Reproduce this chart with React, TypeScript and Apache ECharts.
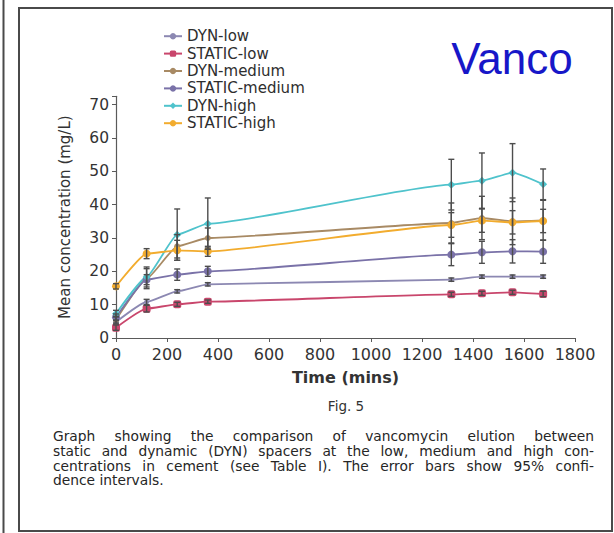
import React, { useEffect, useRef } from "react";
import * as echarts from "echarts";

// ---- data ----
const times = [0, 120, 240, 360, 1315, 1435, 1555, 1675];
const seriesNames = ["DYN-low", "STATIC-low", "DYN-medium", "STATIC-medium", "DYN-high", "STATIC-high"];

const dynLow = [4.8, 10.8, 14.0, 16.1, 17.5, 18.4, 18.4, 18.4];
const dynLowErr = [0.6, 0.8, 0.5, 0.5, 0.5, 0.5, 0.5, 0.5];
const staticLow = [3.1, 8.8, 10.1, 10.9, 13.1, 13.4, 13.7, 13.2];
const staticLowErr = [0.8, 1.0, 0.6, 0.5, 0.6, 0.6, 0.6, 0.8];
const dynMedium = [5.5, 17.8, 27.5, 30.0, 34.5, 36.0, 35.0, 35.3];
const dynMediumErr = [1.0, 3.0, 3.5, 3.0, 6.0, 6.5, 7.0, 6.0];
const staticMedium = [6.2, 17.5, 19.0, 20.0, 25.0, 25.7, 26.0, 25.9];
const staticMediumErr = [1.0, 1.5, 1.7, 1.5, 3.3, 3.3, 3.5, 3.5];
const dynHigh = [7.3, 18.3, 31.0, 34.3, 46.0, 47.2, 49.6, 46.1];
const dynHighErr = [1.0, 3.0, 7.7, 7.7, 7.6, 8.3, 8.7, 4.6];
const staticHigh = [15.5, 25.3, 26.3, 26.0, 33.9, 35.2, 34.7, 35.1];
const staticHighErr = [0.8, 1.5, 3.0, 1.5, 3.7, 3.5, 3.5, 3.5];

const xTicks = { min: 0, max: 1800, interval: 200 };
const yTicks = { min: 0, max: 72.5, interval: 10 };

const captionLines = [
  "Graph showing the comparison of vancomycin elution between",
  "static and dynamic (DYN) spacers at the low, medium and high con-",
  "centrations in cement (see Table I). The error bars show 95% confi-",
  "dence intervals.",
];

const values = [dynLow, staticLow, dynMedium, staticMedium, dynHigh, staticHigh];
const errors = [dynLowErr, staticLowErr, dynMediumErr, staticMediumErr, dynHighErr, staticHighErr];
const colors = ["#8c88b2", "#c9466c", "#a88a64", "#7a72a8", "#4fc3cc", "#f2ac2e"];
const symbols = ["circle", "roundRect", "circle", "circle", "diamond", "circle"];
const symbolSizes = [5, 8, 6, 8, 8, 8];

const FONT = "DejaVu Sans";

function buildCaption(): any[] {
  const els: any[] = [];
  const canvas = document.createElement("canvas");
  const ctx = canvas.getContext("2d");
  const size = 13.8;
  const left = 53;
  const width = 541;
  const ys = [436, 451, 465.5, 480];
  const base = { fontSize: size, fontFamily: FONT, fill: "#262626", align: "left", verticalAlign: "middle" };
  captionLines.forEach((line, li) => {
    const justify = li < captionLines.length - 1;
    if (!justify || !ctx) {
      els.push({ type: "text", x: left, y: ys[li], style: { ...base, text: line } });
      return;
    }
    ctx.font = `${size}px "${FONT}"`;
    const words = line.split(" ");
    const widths = words.map((w) => ctx.measureText(w).width);
    const total = widths.reduce((a, b) => a + b, 0);
    const gap = Math.max((width - total) / (words.length - 1), 2);
    let x = left;
    words.forEach((w, i) => {
      els.push({ type: "text", x, y: ys[li], style: { ...base, text: w } });
      x += widths[i] + gap;
    });
  });
  return els;
}

export default function App() {
  const ref = useRef<HTMLDivElement>(null);
  useEffect(() => {
    document.body.style.margin = "0";
    if (!ref.current) return;
    const chart = echarts.init(ref.current, null, { renderer: "svg" });

    const lineSeries = seriesNames.map((name, i) => ({
      name,
      type: "line",
      data: times.map((t, j) => [t, values[i][j]]),
      smooth: 0.15,
      smoothMonotone: "x",
      symbol: symbols[i],
      symbolSize: symbolSizes[i],
      showAllSymbol: true,
      itemStyle: { color: colors[i] },
      lineStyle: { color: colors[i], width: 1.8 },
      z: 2,
    }));

    const errSeries = seriesNames.map((name, i) => ({
      name: name + " CI",
      type: "custom",
      data: times.map((t, j) => [t, values[i][j] - errors[i][j], values[i][j] + errors[i][j]]),
      encode: { x: 0, y: [1, 2] },
      z: 3,
      renderItem: (params: any, api: any) => {
        const x = api.value(0);
        const lo = api.coord([x, api.value(1)]);
        const hi = api.coord([x, api.value(2)]);
        const w = 3;
        const st = { stroke: "#4d4d4d", lineWidth: 1.4 };
        return {
          type: "group",
          children: [
            { type: "line", shape: { x1: lo[0], y1: lo[1], x2: hi[0], y2: hi[1] }, style: st },
            { type: "line", shape: { x1: lo[0] - w, y1: lo[1], x2: lo[0] + w, y2: lo[1] }, style: st },
            { type: "line", shape: { x1: hi[0] - w, y1: hi[1], x2: hi[0] + w, y2: hi[1] }, style: st },
          ],
        };
      },
    }));

    const option: any = {
      animation: false,
      backgroundColor: "#ffffff",
      grid: { left: 116, right: 39, top: 96.3, bottom: 195 },
      legend: {
        data: seriesNames,
        orient: "vertical",
        left: 163,
        top: 27.5,
        padding: 0,
        itemGap: 0,
        itemWidth: 18,
        itemHeight: 8,
        textStyle: { fontFamily: FONT, fontSize: 15, lineHeight: 17.4, color: "#2e2e2e" },
      },
      xAxis: {
        type: "value",
        min: xTicks.min,
        max: xTicks.max,
        interval: xTicks.interval,
        splitLine: { show: false },
        axisLine: { lineStyle: { color: "#5a5a5a", width: 1.2 } },
        axisTick: { show: true, length: 4, lineStyle: { color: "#5a5a5a" } },
        axisLabel: { fontFamily: FONT, fontSize: 16, color: "#333333", margin: 8, formatter: (v: number) => String(v) },
        name: "Time (mins)",
        nameLocation: "middle",
        nameGap: 31,
        nameTextStyle: { fontFamily: FONT, fontSize: 16, fontWeight: 600, color: "#333333" },
      },
      yAxis: {
        type: "value",
        min: yTicks.min,
        max: yTicks.max,
        interval: yTicks.interval,
        splitLine: { show: false },
        axisLine: { show: true, lineStyle: { color: "#5a5a5a", width: 1.2 } },
        axisTick: { show: true, length: 4, lineStyle: { color: "#5a5a5a" } },
        axisLabel: {
          fontFamily: FONT,
          fontSize: 15.5,
          color: "#333333",
          margin: 7,
          formatter: (v: number) => (v % 10 === 0 ? String(v) : ""),
        },
        name: "Mean concentration (mg/L)",
        nameLocation: "middle",
        nameGap: 44,
        nameTextStyle: { fontFamily: FONT, fontSize: 15, color: "#333333" },
      },
      graphic: [
        { type: "rect", shape: { x: 19, y: 8, width: 593, height: 523 }, style: { fill: "none", stroke: "#4a4a4a", lineWidth: 2 } },
        { type: "line", shape: { x1: 3.5, y1: 0, x2: 3.5, y2: 533 }, style: { stroke: "#4a4a4a", lineWidth: 2 } },
        {
          type: "text",
          x: 512,
          y: 58,
          style: { text: "Vanco", fontFamily: "Liberation Sans", fontSize: 44, fill: "#1717c8", align: "center", verticalAlign: "middle" },
        },
        {
          type: "text",
          x: 346,
          y: 406,
          style: { text: "Fig. 5", fontFamily: FONT, fontSize: 13.5, fill: "#333333", align: "center", verticalAlign: "middle" },
        },
        ...buildCaption(),
      ],
      series: [...lineSeries, ...errSeries],
    };
    chart.setOption(option);
    return () => chart.dispose();
  }, []);
  return <div ref={ref} style={{ width: 614, height: 533 }} />;
}
